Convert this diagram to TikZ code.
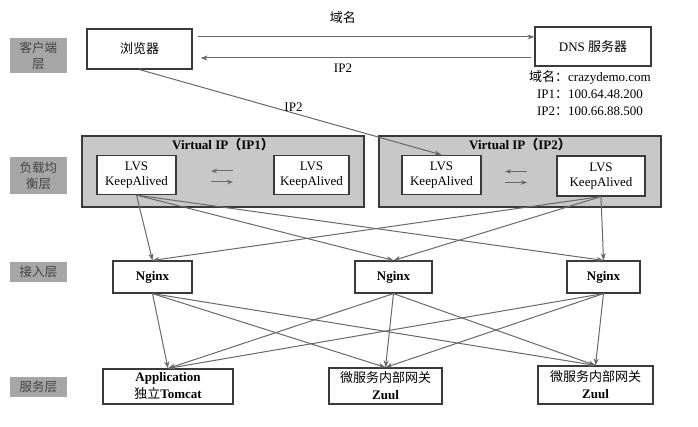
\documentclass[tikz,border=0pt]{standalone}
\usepackage{fontspec}
\setmainfont{Liberation Serif}
\newfontfamily\cjk{Noto Sans CJK SC}
\usetikzlibrary{arrows.meta,positioning,calc}
\definecolor{cline}{RGB}{104,104,104}
\definecolor{cedge}{RGB}{58,58,58}
\definecolor{cvip}{RGB}{200,200,200}
\definecolor{clayer}{RGB}{166,166,166}
\definecolor{clabel}{RGB}{68,68,68}
\newcommand\zh[1]{{\cjk #1}}
\newcommand\fs{\fontsize{13}{16}\selectfont}

\begin{document}
\begin{tikzpicture}[x=1pt, y=-1pt, font=\fs,
  layer/.style={fill=clayer, text=clabel, minimum width=57pt, align=center,
                inner sep=1pt, font=\cjk\fontsize{12.5}{16}\selectfont},
  box/.style={draw=cedge, line width=1.2pt, fill=white, align=center,
              inner sep=2pt, font=\fs},
  vip/.style={draw=cedge, line width=1.2pt, fill=cvip,
              minimum width=282pt, minimum height=71pt},
  arr/.style={draw=cline, line width=1pt, -{Stealth[length=7pt,width=5pt]}}]
  \useasboundingbox (0,0) rectangle (698,427);

  % layer tags on the left
  \node[layer, minimum height=35pt] (lclient) at (38.5,55.5) {客户端\\层};
  \node[layer, minimum height=37pt] (lbalance) at (38.5,175.5) {负载均\\衡层};
  \node[layer, minimum height=20pt] (laccess) at (38.5,272) {接入层};
  \node[layer, minimum height=20pt] (lservice) at (38.5,387) {服务层};

  % client + dns
  \node[box, minimum width=105pt, minimum height=40pt] (browser) at (139.5,49) {\zh{浏览器}};
  \node[box, minimum width=116pt, minimum height=39pt] (dns) at (593,46.5) {DNS \zh{服务器}};
  \node[align=center, font=\fontsize{13}{16.7}\selectfont] (dnsinfo) at (590,93)
       {\zh{域名：}crazydemo.com\\IP1\zh{：}100.64.48.200\\IP2\zh{：}100.66.88.500};

  % load balancing
  \node[vip] (vip1) at (223,171.5) {};
  \node[vip] (vip2) at (520,171.5) {};
  \node[below=-1pt of vip1.north, font=\bfseries\fs] (vip1t) {Virtual IP\zh{（}IP1\zh{）}};
  \node[below=-1pt of vip2.north, font=\bfseries\fs] (vip2t) {Virtual IP\zh{（}IP2\zh{）}};
  \node[box, minimum width=79pt, minimum height=39pt, font=\fontsize{13}{15.5}\selectfont] (lvs1) at (136.5,175) {LVS\\KeepAlived};
  \node[box, minimum width=75pt, minimum height=39pt, font=\fontsize{13}{15.5}\selectfont] (lvs2) at (311.5,175) {LVS\\KeepAlived};
  \node[box, minimum width=79pt, minimum height=39pt, font=\fontsize{13}{15.5}\selectfont] (lvs3) at (441.5,175) {LVS\\KeepAlived};
  \node[box, minimum width=88pt, minimum height=40pt, font=\fontsize{13}{15.5}\selectfont] (lvs4) at (601,176) {LVS\\KeepAlived};

  % access
  \node[box, minimum width=79pt, minimum height=32pt, font=\bfseries\fs] (ng1) at (152.5,277) {Nginx};
  \node[box, minimum width=77pt, minimum height=32pt, font=\bfseries\fs] (ng2) at (393.5,277) {Nginx};
  \node[box, minimum width=73pt, minimum height=32pt, font=\bfseries\fs] (ng3) at (603.5,277) {Nginx};

  % services
  \node[box, minimum width=130pt, minimum height=35pt, font=\bfseries\fontsize{13}{17}\selectfont] (svc1) at (168,386.5) {Application\\\zh{\mdseries 独立}Tomcat};
  \node[box, minimum width=113pt, minimum height=36pt, font=\bfseries\fontsize{13}{17}\selectfont] (svc2) at (385.5,386) {\zh{\mdseries 微服务内部网关}\\Zuul};
  \node[box, minimum width=115pt, minimum height=38pt, font=\bfseries\fontsize{13}{17}\selectfont] (svc3) at (595.5,385) {\zh{\mdseries 微服务内部网关}\\Zuul};

  % browser <-> dns
  \draw[arr, shorten <=5pt] ([yshift=12pt]browser.east) -- ([yshift=12pt]browser.east -| dns.west)
       node[pos=0.44, above=10pt] (qname) {\zh{域名}};
  \draw[arr, shorten <=3pt, shorten >=8pt] ([yshift=-11.5pt]dns.west) -- ([yshift=-11.5pt]dns.west -| browser.east)
       node[pos=0.56, below=2pt] (qip) {IP2};
  \draw[arr] (browser.south) -- (lvs3.north) node[pos=0.51, above=-2pt] (bip) {IP2};

  % heartbeat arrows
  \path (lvs1.east) -- (lvs2.west) coordinate[midway] (hb1);
  \path (lvs3.east) -- (lvs4.west) coordinate[midway] (hb2);
  \draw[arr, -{Stealth[length=6pt,width=4.5pt]}] ($(hb1)+(8,-4)$) -- ($(hb1)+(-14,-4)$);
  \draw[arr, -{Stealth[length=6pt,width=4.5pt]}] ($(hb1)+(-14,7)$) -- ($(hb1)+(8,7)$);
  \draw[arr, -{Stealth[length=6pt,width=4.5pt]}] ($(hb2)+(8,-4)$) -- ($(hb2)+(-14,-4)$);
  \draw[arr, -{Stealth[length=6pt,width=4.5pt]}] ($(hb2)+(-14,7)$) -- ($(hb2)+(8,7)$);

  % lvs -> nginx
  \draw[arr] (lvs1.south) -- (ng1.north);
  \draw[arr] (lvs1.south) -- (ng2.north);
  \draw[arr] (lvs1.south) -- (ng3.north);
  \draw[arr] (lvs4.south) -- (ng1.north);
  \draw[arr] (lvs4.south) -- (ng2.north);
  \draw[arr] (lvs4.south) -- (ng3.north);

  % nginx -> services
  \draw[arr] (ng1.south) -- (svc1.north);
  \draw[arr] (ng1.south) -- (svc2.north);
  \draw[arr] (ng1.south) -- (svc3.north);
  \draw[arr] (ng2.south) -- (svc1.north);
  \draw[arr] (ng2.south) -- (svc2.north);
  \draw[arr] (ng2.south) -- (svc3.north);
  \draw[arr] (ng3.south) -- (svc1.north);
  \draw[arr] (ng3.south) -- (svc2.north);
  \draw[arr] (ng3.south) -- (svc3.north);
\end{tikzpicture}
\end{document}
